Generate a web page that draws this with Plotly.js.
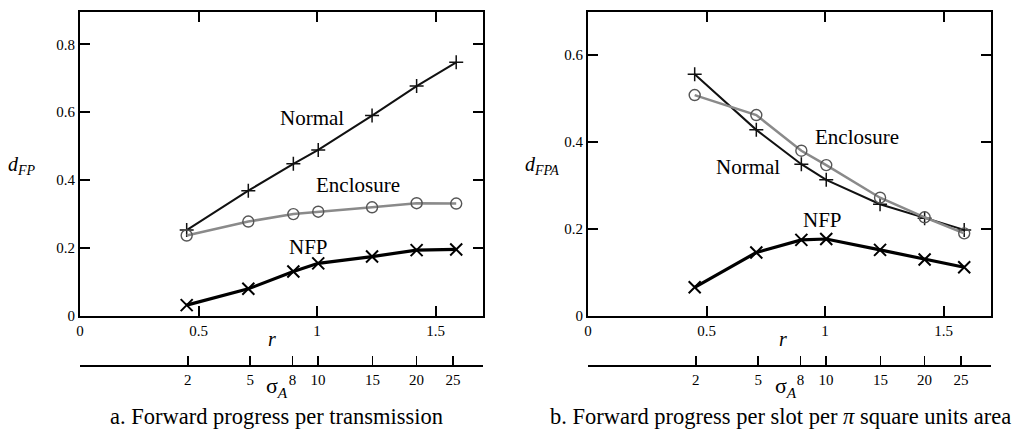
<!DOCTYPE html>
<html>
<head>
<meta charset="utf-8">
<script src="https://cdn.plot.ly/plotly-3.0.1.min.js"></script>
<style>
  html, body { margin: 0; padding: 0; background: #fff; }
  #chart { width: 1020px; height: 430px; }
</style>
</head>
<body>
<div id="chart"></div>
<script>
// Transmission radius r for each sigma_A setting
const sigmaA = [2, 5, 8, 10, 15, 20, 25];
const r = [0.45, 0.71, 0.90, 1.005, 1.232, 1.42, 1.587];

// Positions of the sigma_A ticks on the r scale
const sigmaTickR = [0.455, 0.718, 0.896, 1.004, 1.234, 1.42, 1.573];
const sigmaTickText = ['2', '5', '8', '10', '15', '20', '25'];

// r-axis ticks
const rTicks = [0, 0.5, 1, 1.5];
const rTickText = ['0', '0.5', '1', '1.5'];

// (a) forward progress per transmission
const fpTicks = [0, 0.2, 0.4, 0.6, 0.8];
const fpTickText = ['0', '0.2', '0.4', '0.6', '0.8'];
const normalFP    = [0.253, 0.369, 0.448, 0.489, 0.590, 0.677, 0.747];
const enclosureFP = [0.237, 0.278, 0.300, 0.307, 0.320, 0.332, 0.331];
const nfpFP       = [0.032, 0.080, 0.131, 0.155, 0.175, 0.194, 0.196];

// (b) forward progress per slot per pi square units area
const fpaTicks = [0, 0.2, 0.4, 0.6];
const fpaTickText = ['0', '0.2', '0.4', '0.6'];
const normalFPA    = [0.556, 0.428, 0.349, 0.313, 0.257, 0.225, 0.198];
const enclosureFPA = [0.508, 0.462, 0.380, 0.347, 0.272, 0.227, 0.190];
const nfpFPA       = [0.066, 0.146, 0.175, 0.177, 0.152, 0.130, 0.112];

const W = 1020, H = 430;
const FONT = 'Liberation Serif';
const px = v => v / W;
const py = v => 1 - v / H;

const styles = {
  normal:    { line: { color: '#111', width: 2 },
               marker: { symbol: 'cross-thin', size: 10, line: { color: '#111', width: 1.5 } } },
  enclosure: { line: { color: '#8a8a8a', width: 2.5 },
               marker: { symbol: 'circle-open', size: 11, color: '#555', line: { color: '#555', width: 1.4 } } },
  nfp:       { line: { color: '#000', width: 3.2 },
               marker: { symbol: 'x-thin', size: 12, line: { color: '#000', width: 2 } } }
};

function series(y, kind, xa, ya) {
  return Object.assign({ x: r, y: y, type: 'scatter', mode: 'lines+markers',
    xaxis: xa, yaxis: ya, hoverinfo: 'x+y', cliponaxis: false }, styles[kind]);
}

// invisible carriers so the sigma_A axes get drawn
function carrier(xa, ya) {
  return { x: sigmaTickR, y: sigmaTickR.map(() => null), type: 'scatter', mode: 'none',
           xaxis: xa, yaxis: ya, hoverinfo: 'skip', showlegend: false };
}

const data = [
  series(normalFP, 'normal', 'x', 'y'),
  series(enclosureFP, 'enclosure', 'x', 'y'),
  series(nfpFP, 'nfp', 'x', 'y'),
  series(normalFPA, 'normal', 'x2', 'y2'),
  series(enclosureFPA, 'enclosure', 'x2', 'y2'),
  series(nfpFPA, 'nfp', 'x2', 'y2'),
  carrier('x3', 'y'),
  carrier('x4', 'y2')
];

const tickFont = () => ({ family: FONT, size: 15, color: '#000' });
const frame = () => ({
  showline: true, linecolor: '#000', linewidth: 2, mirror: 'ticks',
  ticks: 'inside', ticklen: 10, tickwidth: 2, tickcolor: '#000',
  showgrid: false, zeroline: false, tickfont: tickFont(), fixedrange: true
});
const sigmaAxis = () => ({
  showline: true, linecolor: '#000', linewidth: 2, mirror: false,
  ticks: 'inside', ticklen: 9, tickwidth: 1.5, tickcolor: '#000',
  showgrid: false, zeroline: false, tickfont: tickFont(), fixedrange: true,
  range: [0, 1.7], tickmode: 'array', tickvals: sigmaTickR, ticktext: sigmaTickText,
  anchor: 'free', position: py(366)
});

const yDomain = [py(316), py(12)];

const layout = {
  width: W, height: H,
  margin: { l: 0, r: 0, t: 0, b: 0 },
  paper_bgcolor: '#fff', plot_bgcolor: 'rgba(0,0,0,0)',
  showlegend: false,
  font: { family: FONT, color: '#000' },
  xaxis: Object.assign(frame(), { domain: [px(80), px(483)], range: [0, 1.7], anchor: 'y',
    tickmode: 'array', tickvals: rTicks, ticktext: rTickText }),
  yaxis: Object.assign(frame(), { domain: yDomain, range: [0, 0.895], anchor: 'x',
    tickmode: 'array', tickvals: fpTicks, ticktext: fpTickText }),
  xaxis2: Object.assign(frame(), { domain: [px(588), px(991)], range: [0, 1.7], anchor: 'y2',
    tickmode: 'array', tickvals: rTicks, ticktext: rTickText }),
  yaxis2: Object.assign(frame(), { domain: yDomain, range: [0, 0.699], anchor: 'x2',
    tickmode: 'array', tickvals: fpaTicks, ticktext: fpaTickText }),
  xaxis3: Object.assign(sigmaAxis(), { overlaying: 'x' }),
  xaxis4: Object.assign(sigmaAxis(), { overlaying: 'x2' }),
  annotations: []
};

function label(text, x, y, size) {
  layout.annotations.push({
    text: text, x: x, y: y, xref: 'paper', yref: 'paper',
    xanchor: 'center', yanchor: 'middle', showarrow: false,
    font: { family: FONT, size: size, color: '#000' }
  });
}
function dataLabel(text, x, y, xa, ya) {
  layout.annotations.push({
    text: text, x: x, y: y, xref: xa, yref: ya,
    xanchor: 'center', yanchor: 'middle', showarrow: false,
    font: { family: FONT, size: 21, color: '#000' }
  });
}

// axis titles
label('<i>d</i><sub><i>FP</i></sub>', px(22), py(165), 20);
label('<i>d</i><sub><i>FPA</i></sub>', px(542), py(165), 20);
label('<i>r</i>', px(272), py(339), 20);
label('<i>r</i>', px(783), py(339), 20);
label('σ<sub><i>A</i></sub>', px(277), py(387), 22);
label('σ<sub><i>A</i></sub>', px(786), py(387), 22);

// captions
label('a. Forward progress per transmission', px(276.5), py(416), 22.5);
label('b. Forward progress per slot per <i>π</i> square units area', px(780), py(416), 22.5);

// series names
dataLabel('Normal', 0.979, 0.583, 'x', 'y');
dataLabel('Enclosure', 1.174, 0.386, 'x', 'y');
dataLabel('NFP', 0.963, 0.203, 'x', 'y');
dataLabel('Enclosure', 1.136, 0.411, 'x2', 'y2');
dataLabel('Normal', 0.676, 0.343, 'x2', 'y2');
dataLabel('NFP', 0.988, 0.221, 'x2', 'y2');

Plotly.newPlot('chart', data, layout, { displayModeBar: false, staticPlot: true });
</script>
</body>
</html>
